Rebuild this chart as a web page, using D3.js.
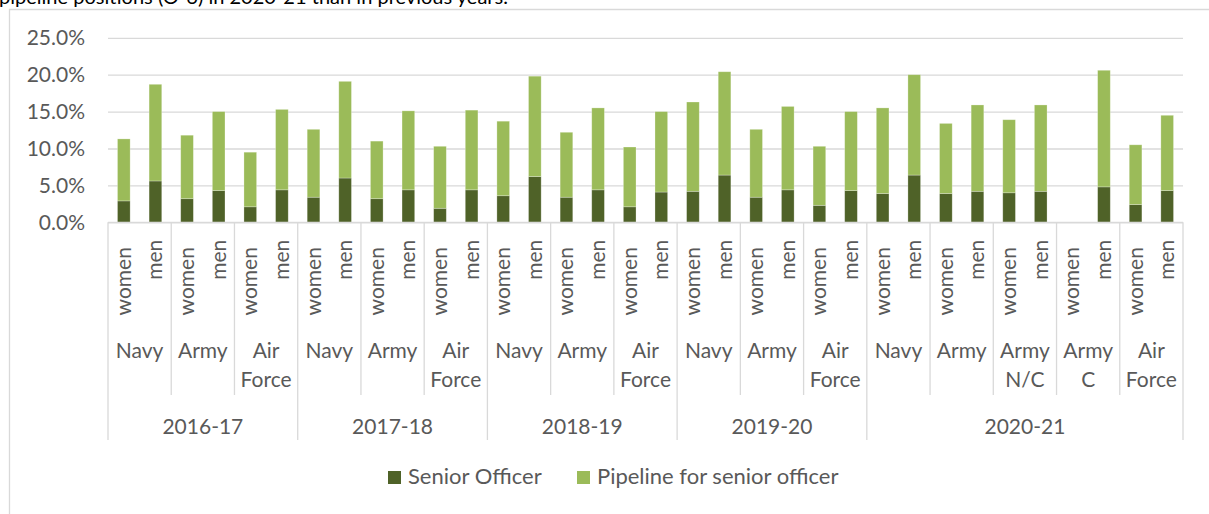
<!DOCTYPE html>
<html>
<head>
<meta charset="utf-8">
<script src="https://cdn.jsdelivr.net/npm/d3@7"></script>
<style>
  html, body { margin: 0; padding: 0; background: #fff; }
  svg { display: block; }
  text { font-family: Lato, "Open Sans", sans-serif; }
</style>
</head>
<body>
<svg id="chart" width="1209" height="514"></svg>
<script>
// ---- data ----
const years = ["2016-17", "2017-18", "2018-19", "2019-20", "2020-21"];
const services = ["Navy", "Army", "Air Force", "Navy", "Army", "Air Force", "Navy", "Army", "Air Force",
                  "Navy", "Army", "Air Force", "Navy", "Army", "Army N/C", "Army C", "Air Force"];
const serviceYear = [0, 0, 0, 1, 1, 1, 2, 2, 2, 3, 3, 3, 4, 4, 4, 4, 4];
const genders = ["women", "men"];
const seriesNames = ["Senior Officer", "Pipeline for senior officer"];
// values in percent, two bars (women, men) per service group
const seniorOfficer = [2.9, 5.6, 3.2, 4.3, 2.1, 4.4,
                       3.4, 6.0, 3.2, 4.4, 1.9, 4.4,
                       3.6, 6.2, 3.4, 4.4, 2.1, 4.1,
                       4.2, 6.4, 3.4, 4.4, 2.3, 4.3,
                       3.9, 6.4, 3.9, 4.2, 4.0, 4.2, null, 4.8, 2.4, 4.3];
const pipeline =      [8.4, 13.1, 8.6, 10.7, 7.4, 10.9,
                       9.2, 13.1, 7.8, 10.7, 8.4, 10.8,
                       10.1, 13.6, 8.8, 11.1, 8.1, 10.9,
                       12.1, 14.0, 9.2, 11.3, 8.0, 10.7,
                       11.6, 13.6, 9.5, 11.7, 9.9, 11.7, null, 15.8, 8.1, 10.2];
const yTicks = [0, 5, 10, 15, 20, 25];
const titleText = "pipeline positions (O-6) in 2020-21 than in previous years.";

// ---- layout ----
const colors = ["#4F6228", "#9BBB59"];
const gridColor = "#D9D9D9";
const textColor = "#595959";
const fs = 21;
const plot = { left: 108, right: 1183, top: 37.8, bottom: 222.3 };

const svg = d3.select("#chart");

// title (clipped at top, as in the reference)
svg.append("text").attr("x", -1).attr("y", 4).attr("fill", "#000")
  .attr("textLength", 509).attr("lengthAdjust", "spacing")
  .style("font-size", "20px").text(titleText);

// chart border
svg.append("path").attr("d", `M9.5,514 V9.5 H1209`).attr("fill", "none")
  .attr("stroke", gridColor).attr("stroke-width", 1.3);

const bars = [];
services.forEach((s, gi) => genders.forEach((g, k) => {
  const i = gi * 2 + k;
  bars.push({ i, gi, g, s: seniorOfficer[i], p: pipeline[i] });
}));

const x = d3.scaleBand().domain(bars.map(d => d.i)).range([plot.left, plot.right])
  .paddingInner(0.6).paddingOuter(0.3);
const y = d3.scaleLinear().domain([0, 25]).range([plot.bottom, plot.top]);

// gridlines + y tick labels
const yAxis = d3.axisLeft(y).tickValues(yTicks).tickFormat(d => d3.format(".1f")(d) + "%")
  .tickSize(-(plot.right - plot.left)).tickPadding(23);
const gy = svg.append("g").attr("transform", `translate(${plot.left},0)`).call(yAxis);
gy.select(".domain").remove();
gy.selectAll(".tick line").attr("stroke", gridColor).attr("stroke-width", 1.3);
gy.selectAll(".tick text").attr("fill", textColor).style("font-size", fs + "px")
  .style("font-family", "Lato, sans-serif");

// stacked bars
const stackData = bars.map(d => ({ i: d.i, s: d.s || 0, p: d.p || 0 }));
const stacked = d3.stack().keys(["s", "p"])(stackData);
svg.append("g").selectAll("g").data(stacked).join("g")
  .attr("fill", (d, k) => colors[k])
  .selectAll("rect").data(d => d.filter(v => v[1] > v[0])).join("rect")
  .attr("x", d => x(d.data.i))
  .attr("width", x.bandwidth())
  .attr("y", d => y(d[1]))
  .attr("height", d => y(d[0]) - y(d[1]))
  .attr("stroke", "#fff").attr("stroke-opacity", 0.35).attr("stroke-width", 0.75);

// category axis: gender labels (rotated)
const genderOffset = { women: 59, men: 37.5 };
svg.append("g").selectAll("text").data(bars).join("text")
  .attr("transform", d => `translate(${x(d.i) + x.bandwidth() / 2 + 7},${plot.bottom + genderOffset[d.g]}) rotate(-90)`)
  .attr("text-anchor", "middle").attr("fill", textColor).style("font-size", fs + "px")
  .text(d => d.g);

// service group labels
const groupX = gi => [x(gi * 2) - x.step() * x.paddingInner() / 2, x(gi * 2 + 1) + x.bandwidth() + x.step() * x.paddingInner() / 2];
const gLab = svg.append("g");
services.forEach((s, gi) => {
  const [x0, x1] = groupX(gi);
  const cx = (x0 + x1) / 2;
  const lines = s.split(" ");
  const t = gLab.append("text").attr("text-anchor", "middle").attr("fill", textColor)
    .style("font-size", fs + "px");
  lines.forEach((ln, li) => t.append("tspan").attr("x", cx).attr("y", 358 + li * 29).text(ln));
});

// dividers
const divs = svg.append("g").attr("stroke", gridColor).attr("stroke-width", 1.3);
services.forEach((s, gi) => {
  const [x0] = groupX(gi);
  const yearStart = gi === 0 || serviceYear[gi] !== serviceYear[gi - 1];
  divs.append("line").attr("x1", x0).attr("x2", x0).attr("y1", plot.bottom)
    .attr("y2", yearStart ? 440 : 395);
});
divs.append("line").attr("x1", plot.right).attr("x2", plot.right).attr("y1", plot.bottom).attr("y2", 440);
divs.append("line").attr("x1", plot.left).attr("x2", plot.right).attr("y1", plot.bottom).attr("y2", plot.bottom);

// year labels
years.forEach((yr, yi) => {
  const idx = serviceYear.map((v, gi) => v === yi ? gi : -1).filter(v => v >= 0);
  const x0 = groupX(idx[0])[0], x1 = groupX(idx[idx.length - 1])[1];
  svg.append("text").attr("x", (x0 + x1) / 2).attr("y", 433.5).attr("text-anchor", "middle")
    .attr("fill", textColor).style("font-size", fs + "px").text(yr);
});

// legend
const legendX = [388, 577];
const lg = svg.append("g");
seriesNames.forEach((n, k) => {
  lg.append("rect").attr("x", legendX[k]).attr("y", 471).attr("width", 13).attr("height", 13).attr("fill", colors[k]);
  lg.append("text").attr("x", legendX[k] + 20).attr("y", 484).attr("fill", textColor)
    .style("font-size", "22px").text(n);
});
</script>
</body>
</html>
